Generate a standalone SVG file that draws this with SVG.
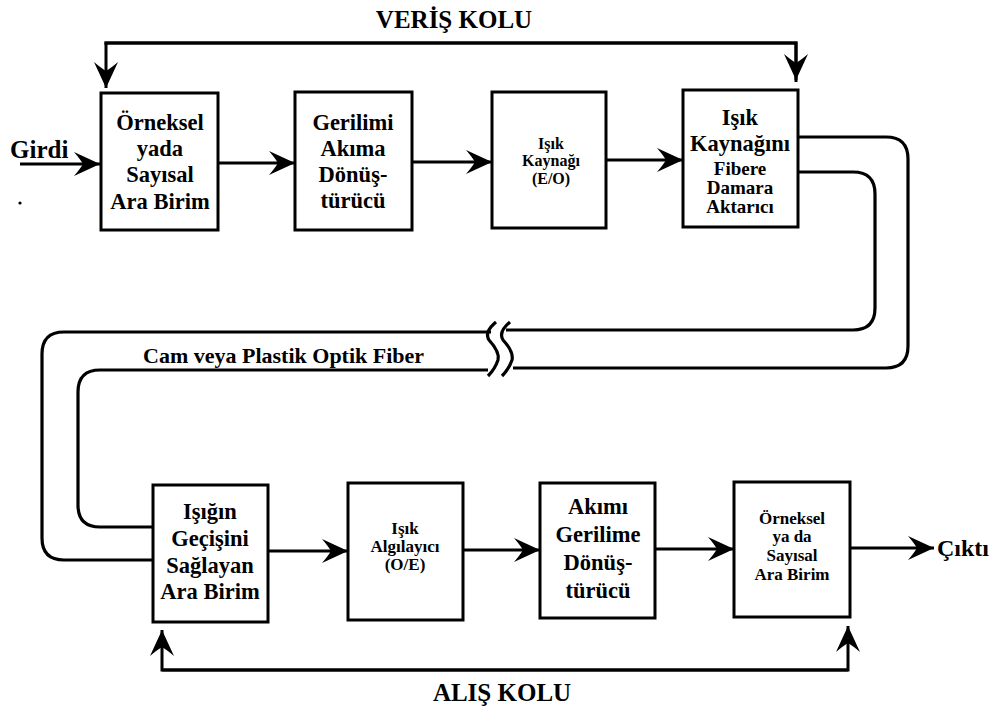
<svg xmlns="http://www.w3.org/2000/svg" width="998" height="711" viewBox="0 0 998 711">
<style>
.box{fill:#fff;stroke:#000;stroke-width:3}
.ln{fill:none;stroke:#000;stroke-width:3}
.fb{fill:none;stroke:#000;stroke-width:3.2;stroke-linejoin:round}
text{font-family:"Liberation Serif","Times New Roman",serif;font-weight:bold;fill:#000}
.t{font-family:"Liberation Serif","Times New Roman",serif;font-size:22.5px;text-anchor:middle}
.s{font-family:"Liberation Serif","Times New Roman",serif;font-size:16px;text-anchor:middle}
.m{font-family:"Liberation Serif","Times New Roman",serif;font-size:19px;text-anchor:middle}
.q{font-family:"Liberation Serif","Times New Roman",serif;font-size:17px;text-anchor:middle}
.ttl{font-family:"Liberation Serif","Times New Roman",serif;font-size:25px;text-anchor:middle}
</style>
<defs>
<marker id="ah" markerUnits="userSpaceOnUse" markerWidth="30" markerHeight="30" viewBox="-28 -14 30 28" refX="0" refY="0" orient="auto">
<path d="M0 0 L-26 -12 Q-20 -5 -17 0 Q-20 5 -26 12 Z" fill="#000"/>
</marker>
</defs>
<rect width="998" height="711" fill="#fff"/>
<text class="ttl" x="454" y="28">VERİŞ KOLU</text>
<text class="ttl" x="502" y="701">ALIŞ KOLU</text>
<g id="connectors">
<path class="ln" d="M796 82 V43 H106 V88" marker-end="url(#ah)"/>
<path class="ln" d="M106 45 V43 H796 V80" marker-end="url(#ah)"/>
<line class="ln" x1="20" y1="164" x2="100" y2="164" marker-end="url(#ah)"/>
<line class="ln" x1="218" y1="163" x2="295" y2="163" marker-end="url(#ah)"/>
<line class="ln" x1="412" y1="162" x2="492" y2="162" marker-end="url(#ah)"/>
<line class="ln" x1="606" y1="160" x2="683" y2="160" marker-end="url(#ah)"/>
<line class="ln" x1="268" y1="551" x2="348" y2="551" marker-end="url(#ah)"/>
<line class="ln" x1="463" y1="550" x2="540" y2="550" marker-end="url(#ah)"/>
<line class="ln" x1="655" y1="549" x2="734" y2="549" marker-end="url(#ah)"/>
<line class="ln" x1="850" y1="548" x2="934" y2="548" marker-end="url(#ah)"/>
<path class="ln" d="M162 670 H848 V626" marker-end="url(#ah)"/>
<path class="ln" d="M848 670 H162 V630" marker-end="url(#ah)"/>
<path class="fb" d="M798 137 H886 Q908 137 908 159 V346 Q908 368 886 368 H513"/>
<path class="fb" d="M798 172 H853 Q875 172 875 194 V308 Q875 330 853 330 H506"/>
<path class="fb" d="M491 332 H64 Q42 332 42 354 V538 Q42 560 64 560 H153"/>
<path class="fb" d="M488 370 H100 Q78 370 78 392 V505 Q78 527 100 527 H153"/>
<path class="fb" d="M496 322 Q484 332 489 340 Q500 352 498 360 Q495 369 488 376"/>
<path class="fb" d="M510 322 Q498 332 503 340 Q514 352 512 360 Q509 369 502 376"/>
<circle cx="20" cy="203" r="1.6" fill="#000"/>
</g>
<text x="10" y="158" style="font-size:25px">Girdi</text>
<text x="937" y="556" style="font-size:24px">Çıktı</text>
<text x="143" y="363" style="font-size:22px">Cam veya Plastik Optik Fiber</text>
<g id="n1">
<rect class="box" x="101" y="93" width="117" height="137"/>
<text class="t" x="160" y="130">Örneksel</text>
<text class="t" x="160" y="156">yada</text>
<text class="t" x="160" y="182">Sayısal</text>
<text class="t" x="160" y="209">Ara Birim</text>
</g>
<g id="n2">
<rect class="box" x="295" y="92" width="117" height="138"/>
<text class="t" x="353" y="130">Gerilimi</text>
<text class="t" x="353" y="156">Akıma</text>
<text class="t" x="353" y="182">Dönüş-</text>
<text class="t" x="353" y="208">türücü</text>
</g>
<g id="n3">
<rect class="box" x="492" y="92" width="114" height="136"/>
<text class="s" x="551" y="149">Işık</text>
<text class="s" x="551" y="166">Kaynağı</text>
<text class="s" x="551" y="184">(E/O)</text>
</g>
<g id="n4">
<rect class="box" x="683" y="90" width="115" height="137"/>
<text class="t" x="740" y="125">Işık</text>
<text class="t" x="740" y="151">Kaynağını</text>
<text class="m" x="740" y="175">Fibere</text>
<text class="m" x="740" y="194">Damara</text>
<text class="m" x="740" y="213">Aktarıcı</text>
</g>
<g id="n5">
<rect class="box" x="153" y="485" width="115" height="137"/>
<text class="t" x="210" y="519">Işığın</text>
<text class="t" x="210" y="546">Geçişini</text>
<text class="t" x="210" y="573">Sağlayan</text>
<text class="t" x="210" y="599">Ara Birim</text>
</g>
<g id="n6">
<rect class="box" x="348" y="483" width="115" height="137"/>
<text class="q" x="405" y="534">Işık</text>
<text class="q" x="405" y="552">Algılayıcı</text>
<text class="q" x="405" y="570">(O/E)</text>
</g>
<g id="n7">
<rect class="box" x="540" y="483" width="115" height="135"/>
<text class="t" x="598" y="514">Akımı</text>
<text class="t" x="598" y="542">Gerilime</text>
<text class="t" x="598" y="570">Dönüş-</text>
<text class="t" x="598" y="598">türücü</text>
</g>
<g id="n8">
<rect class="box" x="734" y="482" width="116" height="135"/>
<text class="q" x="792" y="524">Örneksel</text>
<text class="q" x="792" y="542">ya da</text>
<text class="q" x="792" y="561">Sayısal</text>
<text class="q" x="792" y="580">Ara Birim</text>
</g>
</svg>
